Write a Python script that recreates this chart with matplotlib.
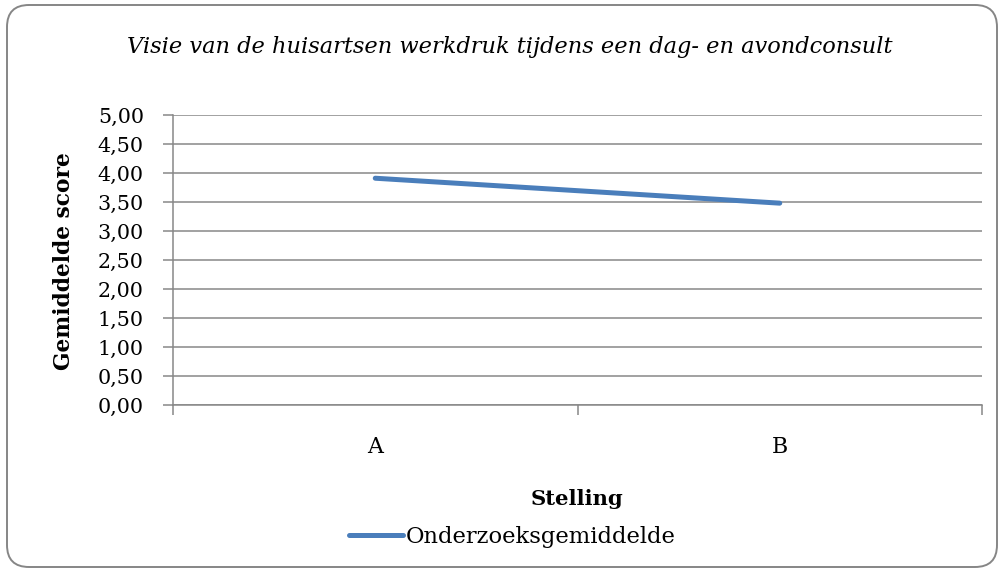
import matplotlib
matplotlib.use("Agg")
import matplotlib.pyplot as plt
from matplotlib.patches import FancyBboxPatch
from matplotlib.ticker import FixedLocator, NullFormatter

categories = ["A", "B"]
values = [3.91, 3.48]
series_name = "Onderzoeksgemiddelde"
yticks = [0.0, 0.5, 1.0, 1.5, 2.0, 2.5, 3.0, 3.5, 4.0, 4.5, 5.0]
ytick_labels = ["0,00", "0,50", "1,00", "1,50", "2,00", "2,50", "3,00", "3,50", "4,00", "4,50", "5,00"]
title = "Visie van de huisartsen werkdruk tijdens een dag- en avondconsult"
xlabel = "Stelling"
ylabel = "Gemiddelde score"

FONT = "DejaVu Serif"
GRID = "#878787"
LINE = "#4A7EBB"

fig = plt.figure(figsize=(10.04, 5.72), dpi=100)
fig.patch.set_facecolor("white")

# rounded border
W, H = 1004, 572
border = FancyBboxPatch((7, 5), 990, 562,
                        boxstyle="round,pad=0,rounding_size=22",
                        transform=None, facecolor="none",
                        edgecolor="#868686", linewidth=1.4)
fig.patches.append(border)

ax = fig.add_axes([173/W, 1 - 405/H, 809/W, 290/H])
x = [i + 0.5 for i in range(len(categories))]
ax.plot(x, values, color=LINE, linewidth=3.6, solid_capstyle="round", label=series_name)

ax.set_xlim(0, len(categories))
ax.set_ylim(0, 5)
ax.set_yticks(yticks)
ax.set_yticklabels(ytick_labels, fontfamily=FONT, fontsize=14.9)
ax.yaxis.grid(True, color=GRID, linewidth=1.1)
ax.set_axisbelow(True)

ax.xaxis.set_major_locator(FixedLocator(list(range(len(categories) + 1))))
ax.xaxis.set_major_formatter(NullFormatter())
ax.set_xticks(x, minor=True)
ax.set_xticklabels(categories, minor=True, fontfamily=FONT, fontsize=15.8)
ax.tick_params(axis="x", which="minor", length=0, pad=22)
ax.tick_params(axis="x", which="major", length=7, width=1.1, color=GRID, direction="out")
ax.tick_params(axis="y", length=7, width=1.1, color=GRID, direction="out", pad=14)

for s in ["top", "right"]:
    ax.spines[s].set_visible(False)
for s in ["left", "bottom"]:
    ax.spines[s].set_color(GRID)
    ax.spines[s].set_linewidth(1.1)

fig.text(510/W, 1 - 53/H, title, ha="center", va="baseline",
         fontfamily=FONT, fontstyle="italic", fontsize=16.2)
fig.text(577/W, 1 - 499/H, xlabel, ha="center", va="center",
         fontfamily=FONT, fontweight="bold", fontsize=15.2)
fig.text(64/W, 1 - 261/H, ylabel, ha="center", va="center", rotation=90,
         fontfamily=FONT, fontweight="bold", fontsize=15.7)

leg = fig.legend(loc="center", bbox_to_anchor=(512/W, 1 - 537/H),
                 frameon=False, prop={"family": FONT, "size": 16.3},
                 handlelength=2.4, handletextpad=0.1, borderpad=0)

fig.savefig("out.png", dpi=100)
